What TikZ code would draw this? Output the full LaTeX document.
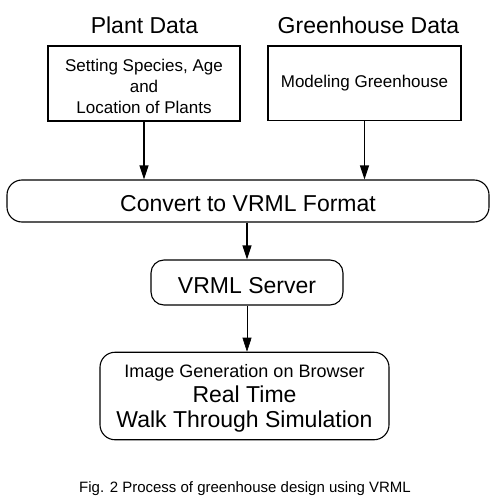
\documentclass[tikz,border=0pt]{standalone}
\usepackage{fontspec}
\setmainfont{Liberation Sans}
\usetikzlibrary{arrows.meta}
\begin{document}
\begin{tikzpicture}[x=1pt,y=-1pt,
  box/.style={draw, line width=1.1pt, inner sep=0pt, align=center},
  rbox/.style={box, rounded corners=15pt},
  arr/.style={line width=1.1pt, -{Triangle[width=9pt,length=14pt]}},
  thinarr/.style={line width=0.6pt, -{Triangle[width=9pt,length=14pt]}},
  big/.style={font=\fontsize{23}{25}\selectfont},
  mid/.style={font=\fontsize{17}{21.3}\selectfont},
]
\useasboundingbox[fill=white] (0,0) rectangle (496,500);
\node[anchor=base, big] (tp) at (144.5,33.3) {Plant Data};
\node[anchor=base, big] (tg) at (368.5,33.3) {Greenhouse Data};
\node[box, mid, minimum width=192pt, minimum height=75pt] (pbox) at (144,83.5) {\rule{0pt}{18.5pt}Setting Species, Age\\and\\Location of Plants};
\node[box, mid, minimum width=193pt, minimum height=74.5pt] (gbox) at (364.5,83.3) {Modeling Greenhouse};
\node[rbox, big, minimum width=482pt, minimum height=42pt, text height=21.4pt, text depth=0pt] (conv) at (248,201) {Convert to VRML Format};
\node[rbox, big, rounded corners=13pt, minimum width=192pt, minimum height=45pt, text height=21.6pt, text depth=0pt] (srv) at (247,282.5) {VRML Server};
\node[rbox, big, minimum width=289pt, minimum height=87.5pt] (img) at (244.5,396) {{\fontsize{18}{22}\selectfont\rule{0pt}{18pt}Image Generation on Browser}\\Real Time\\Walk Through Simulation};
\node[anchor=base, font=\fontsize{15}{18}\selectfont] (cap) at (245,492) {Fig. 2 Process of greenhouse design using VRML};
\draw[arr] (pbox.south) -- (pbox.south |- conv.north);
\draw[arr] (gbox.south) -- (gbox.south |- conv.north);
\draw[arr] (conv.south -| srv.north) -- (srv.north);
\draw[thinarr] (srv.south) -- (srv.south |- img.north);
\end{tikzpicture}
\end{document}
